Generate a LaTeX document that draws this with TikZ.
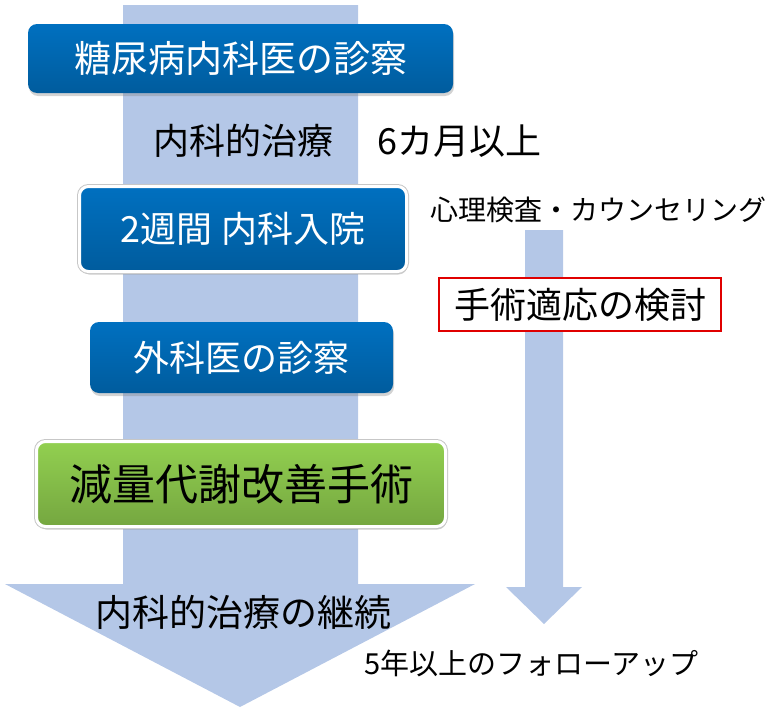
\documentclass[tikz,border=0pt]{standalone}
\usepackage{fontspec}
\setmainfont{Noto Sans CJK JP}
\usetikzlibrary{positioning,shadows}
\definecolor{shaftblue}{RGB}{180,199,231}
\definecolor{boxblue}{RGB}{0,112,192}
\definecolor{boxgreen}{RGB}{146,208,80}
\definecolor{boxred}{RGB}{224,0,0}

\begin{document}
\begin{tikzpicture}[x=1pt,y=-1pt,
  stagebox/.style = {shape=rectangle, rounded corners=9pt, inner sep=0pt,
    top color=boxblue, bottom color=boxblue!82!black, text=white,
    font=\fontsize{36}{40}\selectfont,
    drop shadow={shadow xshift=1pt, shadow yshift=-3pt, opacity=0.35}},
  rimbox/.style = {stagebox, draw=white, line width=3pt,
    preaction={draw=black!22, line width=5pt}},
  surgerybox/.style = {rimbox, top color=boxgreen, bottom color=boxgreen!80!black,
    text=black, font=\fontsize{43}{48}\selectfont},
  plaintext/.style = {inner sep=0pt, font=\fontsize{36}{40}\selectfont},
  smalltext/.style = {inner sep=0pt, font=\fontsize{28}{32}\selectfont}
  ]
  \useasboundingbox (0,0) rectangle (779,712);

  % broad arrow and narrow arrow
  \fill[shaftblue] (123,5) -- (358,5) -- (358,584) -- (475,584) -- (240,707)
    -- (5,584) -- (123,584) -- cycle;
  \fill[shaftblue] (525,230) -- (563,230) -- (563,587) -- (582,587) -- (544,624)
    -- (506,587) -- (525,587) -- cycle;

  \node[stagebox, minimum width=425pt, minimum height=69pt, font=\fontsize{37}{40}\selectfont]
    (internist) at (240.5,58.5) {糖尿病内科医の診察};
  \node[plaintext] (medtreat) at (243,141) {内科的治療};
  \node[plaintext, right=44pt of medtreat] (sixmonths) {6カ月以上};
  \node[rimbox, minimum width=327pt, minimum height=85pt]
    (admission) at (243,229) {2週間 内科入院};
  \node[smalltext] (psych) at (598,210) {心理検査・カウンセリング};
  \node[plaintext, draw=boxred, line width=2pt, fill=white,
    minimum width=282pt, minimum height=53pt] (indication) at (580,304.5) {手術適応の検討};
  \node[stagebox, minimum width=303pt, minimum height=71pt]
    (surgeon) at (241.5,357.5) {外科医の診察};
  \node[surgerybox, minimum width=409pt, minimum height=85pt]
    (surgery) at (241,484) {減量代謝改善手術};
  \node[plaintext, font=\fontsize{37}{40}\selectfont] (continue) at (243,612) {内科的治療の継続};
  \node[smalltext, font=\fontsize{29}{32}\selectfont] (followup) at (531,663) {5年以上のフォローアップ};
\end{tikzpicture}
\end{document}
